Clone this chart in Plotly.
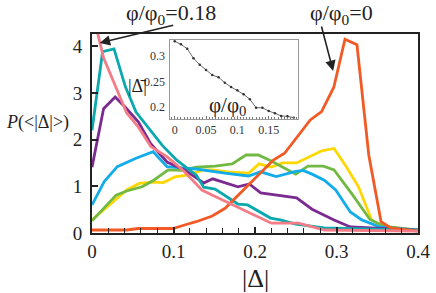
import plotly.graph_objects as go

# ---- main plot data ----
red_x = [0, 0.0426, 0.0568, 0.0994, 0.1136, 0.1278, 0.1476, 0.1633, 0.2225, 0.2363, 0.2678, 0.2817, 0.2967, 0.3104, 0.3251, 0.3396, 0.3547, 0.3665, 0.4]
red_y = [0.064, 0.064, 0.096, 0.096, 0.171, 0.242, 0.364, 0.529, 1.563, 1.707, 2.42, 2.6, 3.12, 4.15, 4.03, 1.67, 0.24, 0.107, 0.04]

yellow_x = [0, 0.0178, 0.0296, 0.0426, 0.058, 0.0746, 0.0876, 0.1018, 0.117, 0.137, 0.148, 0.167, 0.192, 0.205, 0.22, 0.234, 0.251, 0.282, 0.297, 0.312, 0.327, 0.343, 0.353, 0.364, 0.4]
yellow_y = [0.28, 0.54, 0.71, 0.92, 1.06, 1.09, 1.08, 1.2, 1.24, 1.35, 1.35, 1.31, 1.28, 1.48, 1.41, 1.5, 1.5, 1.76, 1.81, 1.42, 0.99, 0.28, 0.17, 0.12, 0.06]

green_x = [0, 0.0296, 0.0426, 0.0615, 0.0757, 0.0935, 0.11, 0.128, 0.151, 0.172, 0.189, 0.204, 0.22, 0.25, 0.265, 0.284, 0.297, 0.32, 0.341, 0.359, 0.4]
green_y = [0.26, 0.81, 0.9, 0.99, 1.13, 1.35, 1.34, 1.41, 1.43, 1.48, 1.67, 1.67, 1.54, 1.26, 1.43, 1.43, 1.35, 0.81, 0.29, 0.14, 0.06]

blue_x = [0, 0.015, 0.031, 0.054, 0.075, 0.092, 0.1136, 0.128, 0.163, 0.192, 0.207, 0.226, 0.25, 0.259, 0.27, 0.285, 0.299, 0.317, 0.331, 0.353, 0.4]
blue_y = [0.6, 1.1, 1.42, 1.6, 1.74, 1.42, 1.39, 1.37, 1.28, 1.22, 1.31, 1.21, 1.32, 1.34, 1.26, 1.13, 0.92, 0.45, 0.28, 0.13, 0.06]

purple_x = [0, 0.0142, 0.0284, 0.0414, 0.0568, 0.072, 0.092, 0.1136, 0.128, 0.137, 0.148, 0.179, 0.193, 0.207, 0.251, 0.27, 0.297, 0.317, 0.4]
purple_y = [1.41, 2.66, 2.91, 2.68, 2.38, 1.91, 1.52, 1.35, 1.18, 1.07, 1.16, 0.99, 1.05, 0.86, 0.75, 0.51, 0.28, 0.13, 0.06]

teal_x = [0, 0.013, 0.027, 0.041, 0.054, 0.086, 0.104, 0.128, 0.137, 0.151, 0.179, 0.191, 0.219, 0.231, 0.25, 0.285, 0.4]
teal_y = [2.2, 3.88, 3.94, 3.13, 2.59, 1.88, 1.56, 1.24, 0.98, 0.94, 0.62, 0.6, 0.32, 0.28, 0.19, 0.11, 0.06]

pink_x = [0, 0.0142, 0.0426, 0.0568, 0.0722, 0.0923, 0.1136, 0.1349, 0.1479, 0.2201, 0.2533, 0.2852, 0.4]
pink_y = [4.78, 3.75, 2.57, 2.27, 1.85, 1.63, 1.31, 0.92, 0.81, 0.21, 0.21, 0.064, 0.04]

x_ticks = [0, 0.1, 0.2, 0.3, 0.4]
x_tick_labels = ["0", "0.1", "0.2", "0.3", "0.4"]
y_ticks = [0, 1, 2, 3, 4]

# ---- inset data ----
inset_x = [0, 0.01, 0.02, 0.03, 0.04, 0.05, 0.06, 0.07, 0.08, 0.09, 0.10, 0.11, 0.12, 0.13, 0.14, 0.15, 0.16, 0.17, 0.18, 0.19]
inset_y = [0.329, 0.323, 0.3144, 0.2955, 0.2828, 0.2724, 0.2625, 0.258, 0.2473, 0.2389, 0.2323, 0.2245, 0.2146, 0.198, 0.198, 0.1915, 0.187, 0.1817, 0.181, 0.1783]
inset_x_ticks = [0, 0.05, 0.1, 0.15]
inset_x_labels = ["0", "0.05", "0.1", "0.15"]
inset_y_ticks = [0.2, 0.25, 0.3]
inset_y_labels = ["0.2", "0.25", "0.3"]

SERIF = "Liberation Serif"
series = [
    (yellow_x, yellow_y, "#FFD700"),
    (green_x, green_y, "#72B944"),
    (blue_x, blue_y, "#12ACEA"),
    (purple_x, purple_y, "#7B2A90"),
    (teal_x, teal_y, "#0BA8AE"),
    (red_x, red_y, "#F15A24"),
    (pink_x, pink_y, "#F47C87"),
]

fig = go.Figure()
for xs, ys, c in series:
    fig.add_trace(go.Scatter(x=xs, y=ys, mode="lines", line=dict(color=c, width=2.8),
                             xaxis="x", yaxis="y", showlegend=False, hoverinfo="skip"))

fig.add_trace(go.Scatter(x=inset_x, y=inset_y, mode="lines+markers",
                         line=dict(color="#444", width=0.8), marker=dict(size=2.5, color="#333"),
                         xaxis="x2", yaxis="y2", showlegend=False, hoverinfo="skip"))

# main plot spans px x 92..430, y 34..233
def px2paper(px, py):
    return (px - 92) / 338.0, (233 - py) / 199.0

ix0, iy0 = px2paper(173.3, 118.7)
ix1, iy1 = px2paper(305.7, 40)

fig.update_layout(
    width=436, height=293,
    margin=dict(l=92, r=6, t=34, b=60),
    paper_bgcolor="white", plot_bgcolor="white",
    font=dict(family=SERIF, color="#222"),
    xaxis=dict(range=[0, 0.4], domain=[0, 1], tickvals=x_ticks, ticktext=x_tick_labels,
               ticks="inside", ticklen=6, tickwidth=1.5, tickcolor="#222",
               minor=dict(dtick=0.02, tick0=0, ticks="inside", ticklen=5, tickwidth=1.3, tickcolor="#222"),
               showline=True, linecolor="#222", linewidth=2, mirror=True, ticklabeloverflow="allow",
               showgrid=False, zeroline=False, tickfont=dict(size=19, family=SERIF)),
    yaxis=dict(range=[0, 4.26], domain=[0, 1], tickvals=y_ticks,
               ticks="inside", ticklen=6, tickwidth=1.5, tickcolor="#222",
               showline=True, linecolor="#222", linewidth=2, mirror=True,
               showgrid=False, zeroline=False, tickfont=dict(size=19, family=SERIF),
               ticklabelstandoff=4),
    xaxis2=dict(anchor="y2", domain=[ix0, ix1], range=[-0.0068, 0.197],
                tickvals=inset_x_ticks, ticktext=inset_x_labels,
                ticks="inside", ticklen=3, tickwidth=0.8, tickcolor="#777",
                minor=dict(dtick=0.005, tick0=0, ticks="inside", ticklen=2, tickwidth=0.8, tickcolor="#777"),
                showline=True, linecolor="#999", linewidth=1, mirror=True,
                showgrid=False, zeroline=False, tickfont=dict(size=12, family=SERIF, color="#333")),
    yaxis2=dict(anchor="x2", domain=[iy0, iy1], range=[0.1763, 0.3316],
                tickvals=inset_y_ticks, ticktext=inset_y_labels, ticks="",
                showline=True, linecolor="#999", linewidth=1, mirror=True,
                showgrid=False, zeroline=False, tickfont=dict(size=12, family=SERIF, color="#333"),
                ticklabelstandoff=2),
)

ann = []
def text_ann(px, py, text, size, xanchor="center", **kw):
    xp, yp = px2paper(px, py)
    d = dict(x=xp, y=yp, xref="paper", yref="paper", text=text, showarrow=False,
             xanchor=xanchor, yanchor="middle", font=dict(family=SERIF, size=size, color="#222"))
    d.update(kw)
    ann.append(d)

text_ann(174, 14, "φ/φ<sub>0</sub>=0.18", 22)
text_ann(351, 14, "φ/φ<sub>0</sub>=0", 22)
text_ann(1, 122, "<i>P</i>(&lt;|Δ|&gt;)", 18, xanchor="left")
text_ann(262, 278, "|Δ|", 26)
text_ann(151, 86, "|Δ̄|", 18, xanchor="right")
text_ann(233, 106, "φ/φ<sub>0</sub>", 21)

ann.append(dict(x=(100 - 92) / 845.0, y=(233 - 43) / 46.7, xref="x", yref="y", text="",
                showarrow=True, ax=75, ay=-18, arrowhead=2, arrowsize=1.3, arrowwidth=1.6,
                arrowcolor="#222"))
ann.append(dict(x=(342 - 92) / 845.0, y=(233 - 71) / 46.7, xref="x", yref="y", text="",
                showarrow=True, ax=-12, ay=-46, arrowhead=2, arrowsize=1.3, arrowwidth=1.6,
                arrowcolor="#222"))
fig.update_layout(annotations=ann)

fig.write_html("out.html", config={"displayModeBar": False},
               post_script="document.body.style.margin='0';document.body.style.padding='0';")
